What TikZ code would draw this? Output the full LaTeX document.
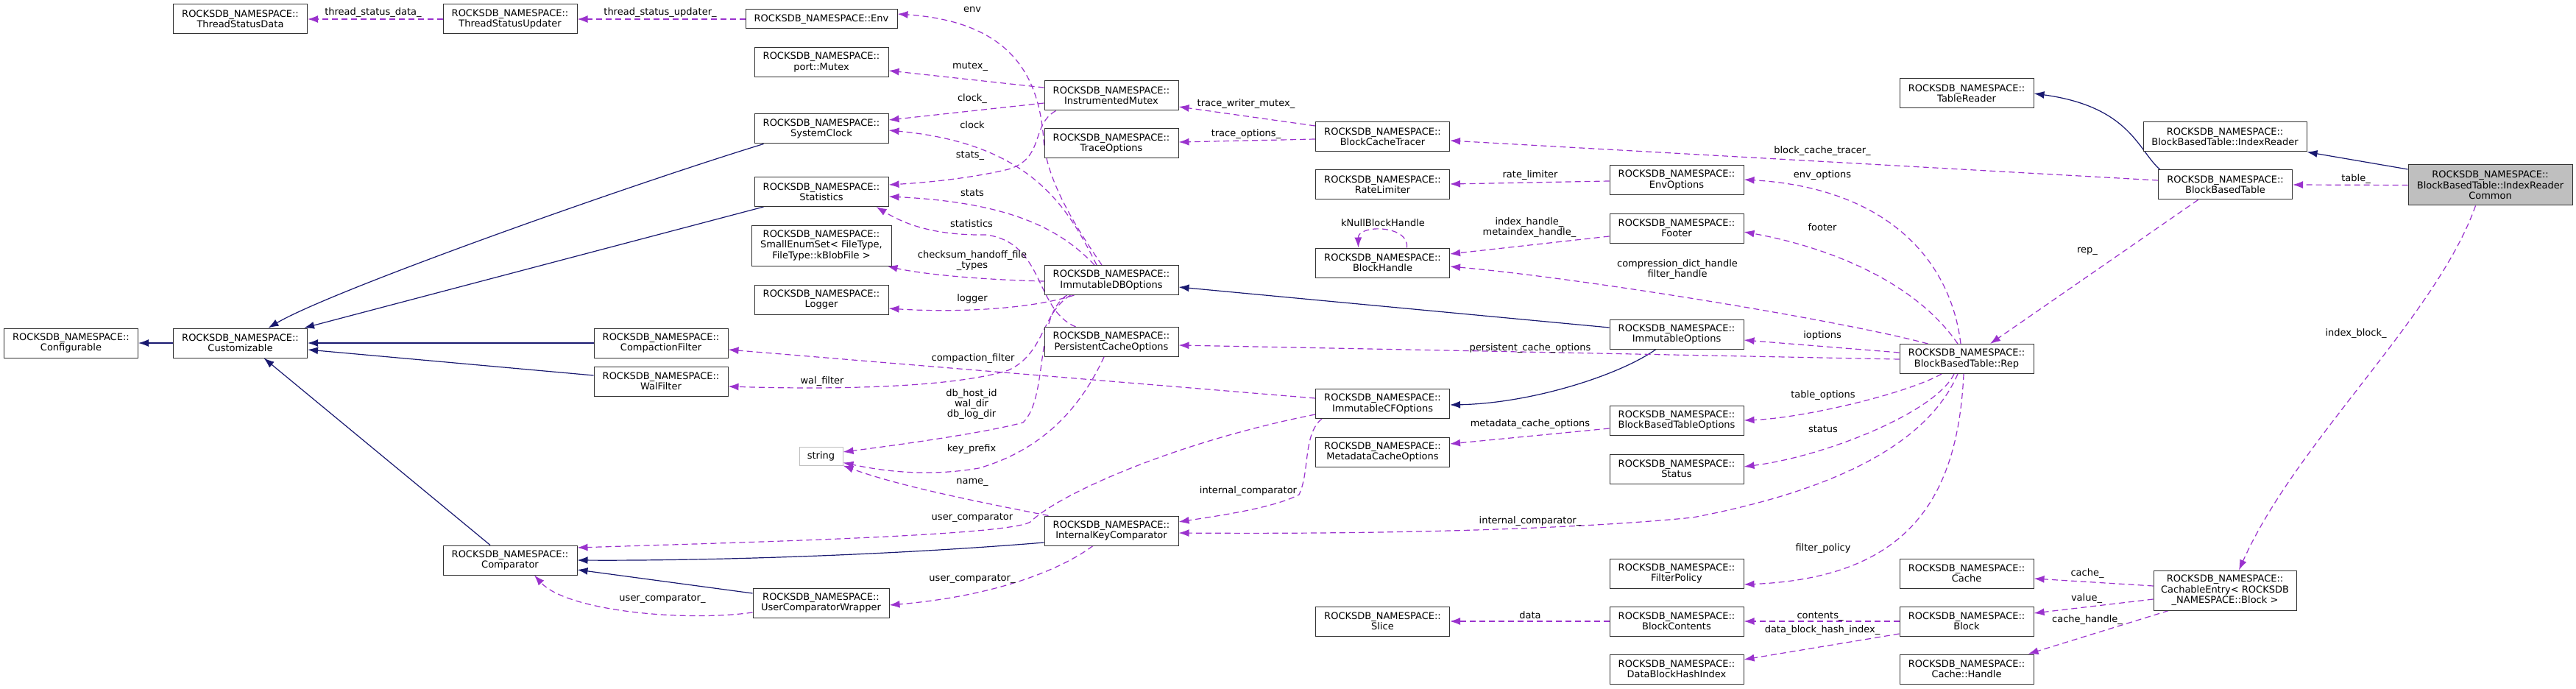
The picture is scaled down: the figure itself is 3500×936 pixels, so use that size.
\documentclass[tikz,border=0pt]{standalone}
\usepackage{fontspec}
\setmainfont{DejaVu Sans}
\definecolor{UsesColor}{RGB}{154,50,205}
\definecolor{BaseColor}{RGB}{25,25,112}
\definecolor{BoxGray}{RGB}{191,191,191}
\usetikzlibrary{arrows.meta, calc, backgrounds}

\begin{document}
\begin{tikzpicture}[x=0.5pt, y=-0.5pt,
    cls/.style={draw=black!80, line width=0.5pt, fill=white, align=center, inner sep=0pt,
      minimum width=91pt, minimum height=20pt, font=\fontsize{6.5}{7.2}\selectfont},
    lbl/.style={inner sep=0pt, align=center, font=\fontsize{6.5}{7.2}\selectfont},
    uses/.style={draw=UsesColor, line width=0.6pt, dash pattern=on 4pt off 2.5pt,
      -{Latex[length=7pt, width=5pt]}},
    inherit/.style={draw=BaseColor, line width=0.6pt, -{Latex[length=7pt, width=5pt]}}]
  \useasboundingbox (0,0) rectangle (3500,936);

  \node[cls] (tsd) at (326.5,26) {ROCKSDB\_NAMESPACE::\\ThreadStatusData};
  \node[cls] (tsu) at (693,26) {ROCKSDB\_NAMESPACE::\\ThreadStatusUpdater};
  \node[cls, minimum width=103pt, minimum height=13pt] (env) at (1116,26) {ROCKSDB\_NAMESPACE::Env};
  \node[cls] (mutex) at (1116,84.5) {ROCKSDB\_NAMESPACE::\\port::Mutex};
  \node[cls] (sysclock) at (1116,175) {ROCKSDB\_NAMESPACE::\\SystemClock};
  \node[cls] (stats) at (1116,260.5) {ROCKSDB\_NAMESPACE::\\Statistics};
  \node[cls, minimum width=95pt, minimum height=27.5pt] (enumset) at (1116,333.5) {ROCKSDB\_NAMESPACE::\\SmallEnumSet< FileType,\\FileType::kBlobFile >};
  \node[cls] (logger) at (1116,407) {ROCKSDB\_NAMESPACE::\\Logger};
  \node[cls] (configurable) at (96.5,466) {ROCKSDB\_NAMESPACE::\\Configurable};
  \node[cls] (customizable) at (326.5,466) {ROCKSDB\_NAMESPACE::\\Customizable};
  \node[cls] (compfilter) at (898,466) {ROCKSDB\_NAMESPACE::\\CompactionFilter};
  \node[cls] (walfilter) at (898,518) {ROCKSDB\_NAMESPACE::\\WalFilter};
  \node[cls, draw=BoxGray, minimum width=29.5pt, minimum height=12.5pt] (string) at (1115.5,619.5) {string};
  \node[cls] (comparator) at (693,761) {ROCKSDB\_NAMESPACE::\\Comparator};
  \node[cls, minimum width=92.5pt] (ucw) at (1115.5,819) {ROCKSDB\_NAMESPACE::\\UserComparatorWrapper};
  \node[cls] (imutex) at (1510,130) {ROCKSDB\_NAMESPACE::\\InstrumentedMutex};
  \node[cls] (traceopt) at (1510,195) {ROCKSDB\_NAMESPACE::\\TraceOptions};
  \node[cls] (idbo) at (1510,380.5) {ROCKSDB\_NAMESPACE::\\ImmutableDBOptions};
  \node[cls] (pco) at (1510,464.5) {ROCKSDB\_NAMESPACE::\\PersistentCacheOptions};
  \node[cls] (ikc) at (1510,721) {ROCKSDB\_NAMESPACE::\\InternalKeyComparator};
  \node[cls] (bct) at (1878.5,186) {ROCKSDB\_NAMESPACE::\\BlockCacheTracer};
  \node[cls] (ratelim) at (1878.5,251) {ROCKSDB\_NAMESPACE::\\RateLimiter};
  \node[cls] (bhandle) at (1878.5,357) {ROCKSDB\_NAMESPACE::\\BlockHandle};
  \node[cls] (icfo) at (1878.5,548.5) {ROCKSDB\_NAMESPACE::\\ImmutableCFOptions};
  \node[cls] (mco) at (1878.5,614) {ROCKSDB\_NAMESPACE::\\MetadataCacheOptions};
  \node[cls] (slice) at (1878.5,844) {ROCKSDB\_NAMESPACE::\\Slice};
  \node[cls] (envopt) at (2278,244.5) {ROCKSDB\_NAMESPACE::\\EnvOptions};
  \node[cls] (footer) at (2278,310) {ROCKSDB\_NAMESPACE::\\Footer};
  \node[cls] (iopt) at (2278,454) {ROCKSDB\_NAMESPACE::\\ImmutableOptions};
  \node[cls] (bbto) at (2278,571) {ROCKSDB\_NAMESPACE::\\BlockBasedTableOptions};
  \node[cls] (status) at (2278,637) {ROCKSDB\_NAMESPACE::\\Status};
  \node[cls] (fpolicy) at (2278,779) {ROCKSDB\_NAMESPACE::\\FilterPolicy};
  \node[cls] (bcontents) at (2278,844) {ROCKSDB\_NAMESPACE::\\BlockContents};
  \node[cls] (dbhi) at (2278,909) {ROCKSDB\_NAMESPACE::\\DataBlockHashIndex};
  \node[cls] (tablereader) at (2672,127) {ROCKSDB\_NAMESPACE::\\TableReader};
  \node[cls] (rep) at (2672,487.5) {ROCKSDB\_NAMESPACE::\\BlockBasedTable::Rep};
  \node[cls] (cache) at (2672,779) {ROCKSDB\_NAMESPACE::\\Cache};
  \node[cls] (block) at (2672,844) {ROCKSDB\_NAMESPACE::\\Block};
  \node[cls] (chandle) at (2672,909) {ROCKSDB\_NAMESPACE::\\Cache::Handle};
  \node[cls, minimum width=111pt] (ireader) at (3023,186) {ROCKSDB\_NAMESPACE::\\BlockBasedTable::IndexReader};
  \node[cls] (bbt) at (3023.5,251) {ROCKSDB\_NAMESPACE::\\BlockBasedTable};
  \node[cls, fill=BoxGray, minimum width=111.5pt, minimum height=27.5pt] (ircommon) at (3383.5,251.5) {ROCKSDB\_NAMESPACE::\\BlockBasedTable::IndexReader\\Common};
  \node[cls, minimum width=97pt, minimum height=27pt] (centry) at (3023,802) {ROCKSDB\_NAMESPACE::\\CachableEntry< ROCKSDB\\\_NAMESPACE::Block >};

  \begin{scope}[on background layer]
    % base classes
    \draw[inherit] (customizable.west) -- (configurable.east);
    \draw[inherit] ($(sysclock.south west)+(13,0)$) .. controls (850,253) and (450,395) .. ($(customizable.north)+(38,0)$);
    \draw[inherit] ($(stats.south west)+(13,0)$) -- ($(customizable.north east)+(-5,0)$);
    \draw[inherit] (compfilter.west) -- (customizable.east);
    \draw[inherit] ($(walfilter.west)+(0,-8)$) -- ($(customizable.east)+(0,9)$);
    \draw[inherit] ($(comparator.north)+(-27,0)$) -- ($(customizable.south)+(32,0)$);
    \draw[inherit] ($(ikc.west)+(0,16)$) .. controls (1200,755) and (950,762) .. (comparator.east);
    \draw[inherit] ($(ucw.west)+(0,-13)$) -- ($(comparator.east)+(0,13)$);
    \draw[inherit] ($(iopt.west)+(0,-9)$) -- ($(idbo.east)+(0,9.5)$);
    \draw[inherit] ($(iopt.south)+(-28,0)$) .. controls (2200,510) and (2080,548) .. ($(icfo.east)+(0,1.5)$);
    \draw[inherit] ($(bbt.north west)+(3,0)$) .. controls (2905,205) and (2895,145) .. (tablereader.east);
    \draw[inherit] ($(ircommon.west)+(0,-21.5)$) -- (ireader.south east);

    % members
    \draw[uses] (tsu.west) -- (tsd.east);
    \draw[uses] (env.west) -- (tsu.east);
    \draw[uses] ($(idbo.north)+(-13,0)$) .. controls (1470,320) and (1422,250) .. (1418,190) .. controls (1412,110) and (1380,30) .. ($(env.east)+(0,-7)$);
    \draw[uses] ($(imutex.west)+(0,-11)$) -- ($(mutex.east)+(0,11.5)$);
    \draw[uses] ($(imutex.west)+(0,10)$) -- ($(sysclock.east)+(0,-12)$);
    \draw[uses] ($(idbo.north)+(-20,0)$) .. controls (1450,280) and (1400,195) .. ($(sysclock.east)+(0,2)$);
    \draw[uses] ($(imutex.south west)+(16,0)$) .. controls (1400,170) and (1420,215) .. (1370,230) .. controls (1320,242) and (1260,248) .. ($(stats.east)+(0,-9.5)$);
    \draw[uses] ($(idbo.north)+(-23,0)$) .. controls (1440,310) and (1370,275) .. ($(stats.east)+(0,6.5)$);
    \draw[uses] ($(pco.north west)+(43,0)$) .. controls (1405,420) and (1420,330) .. (1340,319) .. controls (1270,320) and (1230,305) .. ($(stats.south east)+(-17,0)$);
    \draw[uses] ($(idbo.west)+(0,1.5)$) .. controls (1330,380) and (1250,372) .. ($(enumset.south east)+(-6,0)$);
    \draw[uses] ($(idbo.south west)+(41,0)$) .. controls (1400,420) and (1300,425) .. ($(logger.east)+(0,12)$);
    \draw[uses] ($(idbo.south west)+(36,0)$) .. controls (1415,425) and (1420,480) .. (1370,503) .. controls (1300,525) and (1150,530) .. ($(walfilter.east)+(0,7)$);
    \draw[uses] ($(icfo.west)+(0,-7.5)$) -- ($(compfilter.east)+(0,9)$);
    \draw[uses] ($(idbo.south west)+(31,0)$) .. controls (1405,430) and (1425,540) .. (1390,574) .. controls (1330,590) and (1200,607) .. ($(string.east)+(0,-5.5)$);
    \draw[uses] ($(pco.south)+(-10,0)$) .. controls (1470,550) and (1420,610) .. (1330,636) .. controls (1260,648) and (1200,640) .. ($(string.east)+(0,9)$);
    \draw[uses] ($(ikc.north west)+(6,0)$) .. controls (1330,682) and (1220,660) .. (string.south east);
    \draw[uses] ($(icfo.west)+(0,14.5)$) .. controls (1600,600) and (1440,670) .. (1400,709) .. controls (1370,728) and (1000,737) .. ($(comparator.east)+(0,-17)$);
    \draw[uses] ($(icfo.south west)+(9,0)$) .. controls (1770,590) and (1780,640) .. (1765,672) .. controls (1730,690) and (1660,700) .. ($(ikc.east)+(0,-12)$);
    \draw[uses] ($(ikc.south)+(-25,0)$) .. controls (1440,775) and (1350,810) .. ($(ucw.east)+(0,3)$);
    \draw[uses] ($(ucw.west)+(0,13)$) .. controls (930,845) and (770,830) .. ($(comparator.south)+(33,0)$);
    \draw[uses] ($(bct.west)+(0,-15)$) -- ($(imutex.east)+(0,15)$);
    \draw[uses] ($(bct.west)+(0,3)$) -- ($(traceopt.east)+(0,-2)$);
    \draw[uses] ($(bbt.west)+(0,-6)$) -- ($(bct.east)+(0,5)$);
    \draw[uses] ($(envopt.west)+(0,1.5)$) -- ($(ratelim.east)+(0,-1)$);
    \draw[uses] ($(footer.west)+(0,11)$) -- ($(bhandle.east)+(0,-12)$);
    \draw[uses] ($(bhandle.north)+(33,0)$) .. controls (1915,305) and (1845,305) .. ($(bhandle.north)+(-33,0)$);
    \draw[uses] ($(rep.north west)+(39,0)$) .. controls (2500,435) and (2150,378) .. ($(bhandle.east)+(0,5)$);
    \draw[uses] ($(rep.north)+(-8,0)$) .. controls (2650,350) and (2560,255) .. ($(envopt.east)+(0,-0.5)$);
    \draw[uses] ($(rep.north)+(-12,0)$) .. controls (2600,380) and (2480,335) .. ($(footer.east)+(0,5)$);
    \draw[uses] ($(rep.west)+(0,-8.5)$) -- ($(iopt.east)+(0,8)$);
    \draw[uses] ($(rep.west)+(0,0.5)$) -- ($(pco.east)+(0,4.5)$);
    \draw[uses] ($(rep.south)+(-34,0)$) .. controls (2590,535) and (2450,568) .. (bbto.east);
    \draw[uses] ($(rep.south)+(-17,0)$) .. controls (2630,560) and (2480,620) .. ($(status.east)+(0,-3)$);
    \draw[uses] ($(rep.south)+(-12,0)$) .. controls (2620,600) and (2500,665) .. (2300,703) .. controls (2150,718) and (1900,726) .. ($(ikc.east)+(0,3)$);
    \draw[uses] ($(rep.south)+(-4,0)$) .. controls (2660,680) and (2590,785) .. ($(fpolicy.east)+(0,15)$);
    \draw[uses] ($(bbt.south)+(-37,0)$) -- ($(rep.north)+(32,0)$);
    \draw[uses] (ircommon.west) -- (bbt.east);
    \draw[uses] ($(ircommon.south)+(-20,0)$) .. controls (3310,430) and (3120,600) .. ($(centry.north)+(19,0)$);
    \draw[uses] ($(centry.west)+(0,-6)$) -- ($(cache.east)+(0,7)$);
    \draw[uses] ($(centry.west)+(0,12)$) -- ($(block.east)+(0,-11)$);
    \draw[uses] ($(centry.south west)+(21,0)$) -- ($(chandle.north east)+(-8,0)$);
    \draw[uses] (block.west) -- (bcontents.east);
    \draw[uses] ($(block.west)+(0,17)$) -- ($(dbhi.east)+(0,-13)$);
    \draw[uses] (bcontents.west) -- (slice.east);
    \draw[uses] ($(bbto.west)+(0,11)$) -- ($(mco.east)+(0,-11)$);
  \end{scope}

  \node[lbl] (l-tsdata) at (507,17) {thread\_status\_data\_};
  \node[lbl] (l-tsupd) at (897,17) {thread\_status\_updater\_};
  \node[lbl] (l-env) at (1321,13) {env};
  \node[lbl] (l-mutex) at (1318,90) {mutex\_};
  \node[lbl] (l-clockm) at (1321,134) {clock\_};
  \node[lbl] (l-clock) at (1321,170) {clock};
  \node[lbl] (l-statsm) at (1318,211) {stats\_};
  \node[lbl] (l-stats) at (1321,262) {stats};
  \node[lbl] (l-statistics) at (1320,304) {statistics};
  \node[lbl] (l-checksum) at (1321,354) {checksum\_handoff\_file\\\_types};
  \node[lbl] (l-logger) at (1321,406) {logger};
  \node[lbl] (l-compfilter) at (1322,487) {compaction\_filter};
  \node[lbl] (l-walfilter) at (1117,518) {wal\_filter};
  \node[lbl] (l-dirs) at (1320,549) {db\_host\_id\\wal\_dir\\db\_log\_dir};
  \node[lbl] (l-keyprefix) at (1320,610) {key\_prefix};
  \node[lbl] (l-name) at (1321,655) {name\_};
  \node[lbl] (l-ucmp) at (1321,703) {user\_comparator};
  \node[lbl] (l-ucmpikc) at (1321,786) {user\_comparator\_};
  \node[lbl] (l-ucmpucw) at (900,813) {user\_comparator\_};
  \node[lbl] (l-icmp) at (1696,667) {internal\_comparator};
  \node[lbl] (l-twmutex) at (1693,141) {trace\_writer\_mutex\_};
  \node[lbl] (l-traceopt) at (1693,182) {trace\_options\_};
  \node[lbl] (l-ratelim) at (2079,238) {rate\_limiter};
  \node[lbl] (l-knull) at (1879,303) {kNullBlockHandle};
  \node[lbl] (l-handles) at (2078,309) {index\_handle\_\\metaindex\_handle\_};
  \node[lbl] (l-compdict) at (2279,366) {compression\_dict\_handle\\filter\_handle};
  \node[lbl] (l-pco) at (2079,473) {persistent\_cache\_options};
  \node[lbl] (l-mco) at (2079,576) {metadata\_cache\_options};
  \node[lbl] (l-icmprep) at (2079,708) {internal\_comparator\_};
  \node[lbl] (l-data) at (2079,836) {data};
  \node[lbl] (l-bct) at (2476,205) {block\_cache\_tracer\_};
  \node[lbl] (l-envopt) at (2476,238) {env\_options};
  \node[lbl] (l-footer) at (2476,309) {footer};
  \node[lbl] (l-iopt) at (2476,456) {ioptions};
  \node[lbl] (l-tableopt) at (2477,537) {table\_options};
  \node[lbl] (l-status) at (2477,583) {status};
  \node[lbl] (l-fpolicy) at (2477,745) {filter\_policy};
  \node[lbl] (l-contents) at (2473,837) {contents\_};
  \node[lbl] (l-dbhi) at (2476,856) {data\_block\_hash\_index\_};
  \node[lbl] (l-rep) at (2836,341) {rep\_};
  \node[lbl] (l-table) at (3201,243) {table\_};
  \node[lbl] (l-indexblock) at (3201,453) {index\_block\_};
  \node[lbl] (l-cache) at (2836,779) {cache\_};
  \node[lbl] (l-value) at (2835,813) {value\_};
  \node[lbl] (l-chandle) at (2836,842) {cache\_handle\_};
\end{tikzpicture}
\end{document}
